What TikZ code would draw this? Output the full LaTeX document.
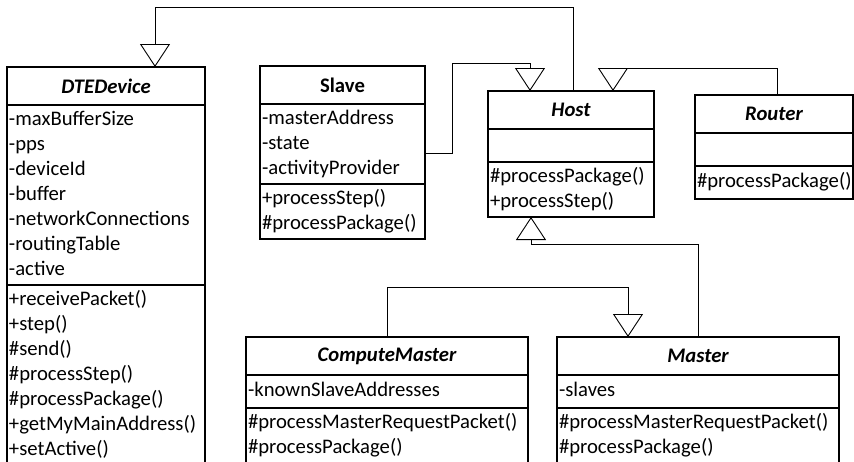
\documentclass[tikz,border=0pt]{standalone}
\usepackage{fontspec}
\setmainfont{Carlito}
\usetikzlibrary{arrows.meta,positioning}

\newcommand{\classfont}{\fontsize{20.7}{25}\selectfont}

\begin{document}
\begin{tikzpicture}[x=1pt,y=-1pt,
  >={Triangle[open,length=23pt,width=30pt]},
  gen/.style={->,line width=0.9pt},
  umltitle/.style={draw,line width=1.3pt,anchor=north,minimum width=#1,
    minimum height=38pt,inner sep=0pt,outer sep=0pt,font=\classfont\bfseries\itshape},
  umlpart/.style={draw,line width=1.3pt,anchor=north,text width=#1,align=left,
    inner xsep=2pt,inner ysep=2.5pt,outer sep=0pt,minimum height=33pt,font=\classfont,
    execute at begin node=\strut,execute at end node=\strut}]

\useasboundingbox (0,0) rectangle (854,461);
\clip (0,0) rectangle (854,461);

% classes
\node[umltitle=198] (DTE) at (106,67) {DTEDevice};
\node[umlpart=194, below=0pt of DTE] (DTE_attr) {-maxBufferSize\\-pps\\-deviceId\\-buffer\\-networkConnections\\-routingTable\\-active};
\node[umlpart=194, below=0pt of DTE_attr] (DTE_ops) {+receivePacket()\\+step()\\\#send()\\\#processStep()\\\#processPackage()\\+getMyMainAddress()\\+setActive()};

\node[umltitle=165, font=\classfont\bfseries] (Slave) at (342.5,66) {Slave};
\node[umlpart=161, below=0pt of Slave] (Slave_attr) {-masterAddress\\-state\\-activityProvider};
\node[umlpart=161, below=0pt of Slave_attr] (Slave_ops) {+processStep()\\\#processPackage()};

\node[umltitle=166] (Host) at (571,91) {Host};
\node[umlpart=162, below=0pt of Host] (Host_attr) {};
\node[umlpart=162, below=0pt of Host_attr] (Host_ops) {\#processPackage()\\+processStep()};

\node[umltitle=158] (Router) at (774,95) {Router};
\node[umlpart=154, below=0pt of Router] (Router_attr) {};
\node[umlpart=154, below=0pt of Router_attr] (Router_ops) {\#processPackage()};

\node[umltitle=282] (CM) at (387,337) {ComputeMaster};
\node[umlpart=278, below=0pt of CM] (CM_attr) {-knownSlaveAddresses};
\node[umlpart=278, below=0pt of CM_attr] (CM_ops) {\#processMasterRequestPacket()\\\#processPackage()};

\node[umltitle=282] (Master) at (698,337) {Master};
\node[umlpart=278, below=0pt of Master] (Master_attr) {-slaves};
\node[umlpart=278, below=0pt of Master_attr] (Master_ops) {\#processMasterRequestPacket()\\\#processPackage()};

% generalizations
\draw[gen] ([xshift=2pt]Host.north) -- ++(0,-84) -| ([xshift=49pt]DTE.north);
\draw[gen] ([yshift=-9pt]Slave_attr.east) -- ++(27,0) |- ([xshift=-41pt,yshift=28pt]Host.north) -- ([xshift=-41pt]Host.north);
\draw[gen] ([xshift=3pt]Router.north) |- ([xshift=42pt,yshift=23pt]Host.north) -- ([xshift=42pt]Host.north);
\draw[gen] (Master.north) |- ([xshift=-40pt,yshift=-27pt]Host_ops.south) -- ([xshift=-40pt]Host_ops.south);
\draw[gen] (CM.north) |- ([xshift=-70pt,yshift=50pt]Master.north) -- ([xshift=-70pt]Master.north);
\end{tikzpicture}
\end{document}
